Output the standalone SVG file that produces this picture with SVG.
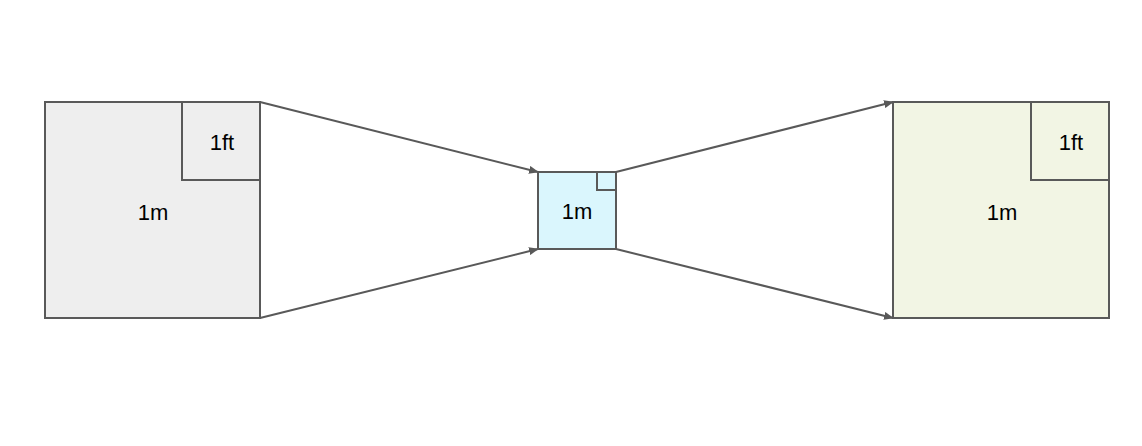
<svg xmlns="http://www.w3.org/2000/svg" width="1142" height="446" viewBox="0 0 1142 446">
<style>
rect{stroke:#595959;stroke-width:2}
text{font-family:"Liberation Sans",Arial,sans-serif;font-size:22px;fill:#000;text-anchor:middle}
.c{stroke:#595959;stroke-width:2;fill:none;marker-end:url(#a)}
</style>
<defs><marker id="a" markerWidth="10" markerHeight="8" refX="9" refY="4" orient="auto" markerUnits="userSpaceOnUse"><path d="M0,0L10,4L0,8z" fill="#595959"/></marker></defs>
<rect width="1142" height="446" fill="#fff" style="stroke:none"/>
<g id="left"><rect x="45" y="102" width="215" height="216" fill="#eeeeee"/><rect x="182" y="102" width="78" height="78" fill="#eeeeee"/><text x="153" y="220">1m</text><text x="222" y="150">1ft</text></g>
<g id="middle"><rect x="538" y="172" width="78" height="77" fill="#daf6fd"/><rect x="597" y="172" width="19" height="18" fill="#daf6fd"/><text x="577" y="219">1m</text></g>
<g id="right"><rect x="893" y="102" width="216" height="216" fill="#f2f5e4"/><rect x="1031" y="102" width="78" height="78" fill="#f2f5e4"/><text x="1002" y="220">1m</text><text x="1071" y="150">1ft</text></g>
<g id="connectors">
<path class="c" d="M260,102L538,172"/>
<path class="c" d="M260,318L538,249"/>
<path class="c" d="M616,172L893,102"/>
<path class="c" d="M616,249L893,318"/>
</g>
</svg>
